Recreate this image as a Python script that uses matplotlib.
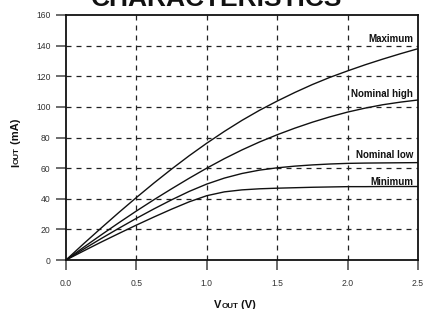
import matplotlib
matplotlib.use("Agg")
import matplotlib.pyplot as plt

plt.rcParams['font.family'] = ['Liberation Sans', 'DejaVu Sans']

# Data (at 0.125 V steps)
v_out = [0.0, 0.125, 0.25, 0.375, 0.5, 0.625, 0.75, 0.875, 1.0, 1.125, 1.25,
         1.375, 1.5, 1.625, 1.75, 1.875, 2.0, 2.125, 2.25, 2.375, 2.5]
i_max = [0, 10.6, 20.9, 31.0, 40.8, 50.3, 59.4, 68.1, 76.3, 84.0, 91.2,
         97.8, 103.8, 109.4, 114.6, 119.3, 123.5, 127.5, 131.2, 134.7, 138.0]
i_nom_high = [0, 8.3, 16.4, 24.3, 32.0, 39.4, 46.5, 53.4, 60.0, 66.2, 71.9,
              77.1, 81.8, 86.1, 90.0, 93.5, 96.6, 99.2, 101.4, 103.1, 104.5]
i_nom_low = [0, 7.1, 14.0, 20.7, 27.2, 33.4, 39.3, 44.8, 49.6, 53.5, 56.5,
             58.7, 60.2, 61.3, 62.1, 62.7, 63.1, 63.3, 63.4, 63.5, 63.6]
i_min = [0, 5.9, 11.7, 17.3, 22.8, 28.1, 33.2, 38.0, 42.0, 44.5, 45.8,
         46.5, 46.9, 47.2, 47.5, 47.7, 47.9, 47.9, 48.0, 48.0, 48.0]
series_names = ["Maximum", "Nominal high", "Nominal low", "Minimum"]
label_y = [144, 108.5, 68.6, 51.2]
x_ticks = [0.0, 0.5, 1.0, 1.5, 2.0, 2.5]
y_ticks = [0, 20, 40, 60, 80, 100, 120, 140, 160]

W, H = 424, 309
fig = plt.figure(figsize=(W/100, H/100), dpi=100)
ax = fig.add_axes([66/W, 1-260/H, (418-66)/W, (260-15)/H])

for ys in (i_max, i_nom_high, i_nom_low, i_min):
    ax.plot(v_out, ys, color='#111111', lw=1.0, zorder=3)

ax.set_xlim(0, 2.5)
ax.set_ylim(0, 160)
ax.set_xticks(x_ticks)
ax.set_xticklabels([f"{t:.1f}" for t in x_ticks])
ax.set_yticks(y_ticks)
ax.set_yticklabels([str(t) for t in y_ticks])

for y in y_ticks[1:-1]:
    ax.axhline(y, color='#222222', lw=0.9, ls=(0, (4, 4)), zorder=1)
for x in x_ticks[1:-1]:
    ax.axvline(x, color='#222222', lw=0.9, ls=(0, (4, 4)), zorder=1)

for s in ax.spines.values():
    s.set_linewidth(1.3)
    s.set_color('#111111')

ax.tick_params(axis='both', direction='out', length=7, width=1.1, color='#444444',
               labelsize=6.2, labelcolor='#333333')
ax.tick_params(axis='y', pad=4)
ax.tick_params(axis='x', pad=7)

for name, ly in zip(series_names, label_y):
    ax.text(2.465, ly, name, ha='right', va='center', fontsize=7, fontweight='bold', color='#111111')

fig.text(217/W, 1-5.5/H, "CHARACTERISTICS", ha='center', va='baseline',
         fontsize=19, fontweight='bold', color='#111111')

# Small-caps style axis labels built from pieces
renderer = fig.canvas.get_renderer()

def piece_row(parts, x0, y0, rotation=0):
    texts = []
    pos = 0.0
    for txt, size, adv in parts:
        if rotation == 0:
            t = fig.text(x0 + pos / W, y0, txt, ha='left', va='baseline', fontsize=size,
                         fontweight='bold', color='#111111')
            bb = t.get_window_extent(renderer)
            pos += bb.width + adv
        else:
            t = fig.text(x0, y0 + pos / H, txt, ha='left', va='baseline', fontsize=size,
                         fontweight='bold', color='#111111', rotation=90, rotation_mode='anchor')
            bb = t.get_window_extent(renderer)
            pos += bb.height + adv
        texts.append(t)
    return texts, pos

xl_parts = [("V", 8, -0.5), ("OUT", 5.8, 0), (" (V)", 8, 0)]
texts, total = piece_row(xl_parts, 0, 0)
for t in texts:
    t.remove()
cx = 235
piece_row(xl_parts, (cx - total/2)/W, 1-308/H)

yl_parts = [("I", 8, 0), ("OUT", 5.8, 0), (" (mA)", 8, 0)]
texts, total = piece_row(yl_parts, 0, 0, rotation=90)
for t in texts:
    t.remove()
cy = 142.5
piece_row(yl_parts, 19/W, (H - cy - total/2)/H, rotation=90)

fig.savefig("out.png", dpi=100)
